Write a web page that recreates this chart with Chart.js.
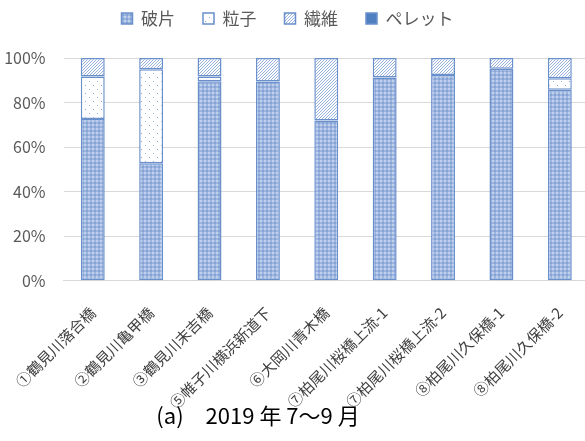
<!DOCTYPE html>
<html>
<head>
<meta charset="utf-8">
<script src="https://cdn.jsdelivr.net/npm/chart.js@4"></script>
<style>
  body { margin: 0; overflow: hidden; background: #fff; }
  #wrap { width: 592px; height: 441px; }
</style>
</head>
<body>
<div id="wrap"><canvas id="chart"></canvas></div>
<script>
const sites = ['①鶴見川落合橋', '②鶴見川亀甲橋', '③鶴見川末吉橋', '⑤帷子川横浜新道下', '⑥大岡川青木橋',
  '⑦柏尾川桜橋上流-1', '⑦柏尾川桜橋上流-2', '⑧柏尾川久保橋-1', '⑧柏尾川久保橋-2']
const fragment = [72.6, 52.8, 89.6, 89.4, 71.9, 91.2, 92.4, 95.2, 85.7]
const particle = [19.1, 42.2, 2.1, 0, 0, 0, 0, 0, 5.2]
const fiber = [8.3, 5.0, 8.3, 10.6, 28.1, 8.8, 7.6, 4.8, 9.1]
const pellet = [0, 0, 0, 0, 0, 0, 0, 0, 0]
const seriesNames = ['破片', '粒子', '繊維', 'ペレット']
const yTicks = [0, 20, 40, 60, 80, 100]
const caption = '(a)　2019 年 7～9 月'

const font = "'Noto Sans CJK JP', 'Noto Sans', sans-serif"
const edge = '#6a90cc'

function makePattern(size, draw) {
  const c = document.createElement('canvas')
  c.width = c.height = size
  const ctx = c.getContext('2d')
  draw(ctx)
  return ctx.createPattern(c, 'repeat')
}

// checkered light blue
const fragFill = makePattern(4, (ctx) => {
  ctx.fillStyle = '#9db6df'
  ctx.fillRect(0, 0, 4, 4)
  ctx.fillStyle = '#bfcfec'
  ctx.fillRect(0, 0, 2, 2)
  ctx.fillStyle = '#87a3d5'
  ctx.fillRect(2, 2, 2, 2)
})

// sparse dots
const partFill = makePattern(8, (ctx) => {
  ctx.fillStyle = '#fff'
  ctx.fillRect(0, 0, 8, 8)
  ctx.fillStyle = '#8eaadb'
  ctx.fillRect(1, 1, 1, 1)
  ctx.fillRect(5, 5, 1, 1)
})

// dense diagonal hatch
const fibFill = makePattern(3, (ctx) => {
  ctx.fillStyle = '#fff'
  ctx.fillRect(0, 0, 3, 3)
  ctx.fillStyle = '#97b1de'
  ctx.fillRect(2, 0, 1, 1)
  ctx.fillRect(1, 1, 1, 1)
  ctx.fillRect(0, 2, 1, 1)
})

const fills = [fragFill, partFill, fibFill, '#4f7fc0']
const values = [fragment, particle, fiber, pellet]

// extra room under the legend
const legendGap = {
  id: 'legendGap',
  beforeInit(chart) {
    const fit = chart.legend.fit
    chart.legend.fit = function () {
      fit.bind(chart.legend)()
      this.height += 21
    }
  },
}

// caption sits a bit left of the canvas centre in the original
const captionPlugin = {
  id: 'caption',
  afterDraw(chart) {
    const ctx = chart.ctx
    ctx.save()
    ctx.font = `22px ${font}`
    ctx.fillStyle = '#000'
    ctx.textAlign = 'center'
    ctx.textBaseline = 'middle'
    ctx.fillText(caption, 258, 416)
    ctx.restore()
  },
}

new Chart(document.getElementById('chart'), {
  type: 'bar',
  data: {
    labels: sites,
    datasets: seriesNames.map((name, i) => ({
      label: name,
      data: values[i],
      backgroundColor: fills[i],
      borderColor: edge,
      borderWidth: 1.5,
      borderSkipped: false,
      barPercentage: 0.41,
      categoryPercentage: 1,
    })),
  },
  options: {
    responsive: true,
    maintainAspectRatio: false,
    animation: false,
    layout: { autoPadding: false, padding: { left: -14, right: 3, top: -18, bottom: 14 } },
    plugins: {
      legend: {
        position: 'top',
        labels: {
          boxWidth: 11,
          boxHeight: 11,
          padding: 28,
          color: '#595959',
          font: { family: font, size: 17 },
        },
      },
      tooltip: { enabled: false },
    },
    scales: {
      x: {
        stacked: true,
        grid: { display: false },
        border: { color: '#d9d9d9' },
        ticks: {
          minRotation: 45,
          maxRotation: 45,
          padding: 15,
          color: '#404040',
          font: { family: font, size: 15 },
        },
      },
      y: {
        stacked: true,
        min: 0,
        max: 100,
        afterBuildTicks: (axis) => {
          axis.ticks = yTicks.map((v) => ({ value: v }))
        },
        grid: { color: '#d9d9d9', drawTicks: false },
        border: { display: false },
        ticks: {
          padding: 18,
          color: '#595959',
          font: { family: font, size: 16 },
          callback: (v) => v + '%',
        },
      },
    },
  },
  plugins: [legendGap, captionPlugin],
})
</script>
</body>
</html>
